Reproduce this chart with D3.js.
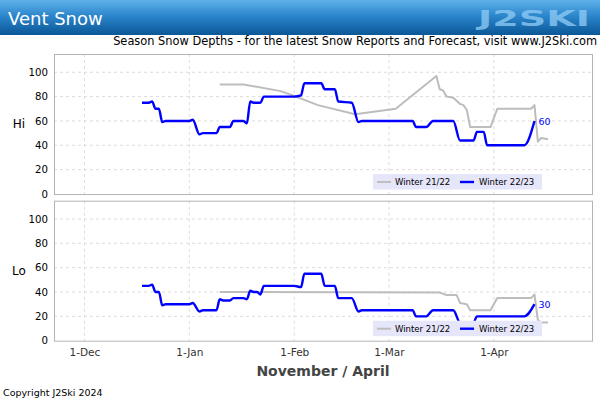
<!DOCTYPE html>
<html>
<head>
<meta charset="utf-8">
<script src="https://cdn.jsdelivr.net/npm/d3@7"></script>
<style>
  html, body { margin: 0; padding: 0; background: #fff; }
  svg { display: block; font-family: "DejaVu Sans", sans-serif; }
</style>
</head>
<body>
<svg id="chart" width="600" height="400"></svg>
<script>
// ---------------- DATA ----------------
const titleText = "Vent Snow";
const subtitleText = "Season Snow Depths - for the latest Snow Reports and Forecast, visit www.J2Ski.com";
const xAxisTitle = "November / April";
const copyrightText = "Copyright J2Ski 2024";
const seriesNames = ["Winter 21/22", "Winter 22/23"];
const panelLabels = ["Hi", "Lo"];
const yTicks = [0, 20, 40, 60, 80, 100];
const xTickDates = ["2022-12-01", "2023-01-01", "2023-02-01", "2023-03-01", "2023-04-01"];
const xDomain = ["2022-11-22", "2023-04-30"];

// Winter 22/23 (current season)
const cur_dates = ["2022-12-18","2022-12-20","2022-12-21","2022-12-22","2022-12-23","2022-12-24","2022-12-25",
  "2023-01-01","2023-01-02","2023-01-04","2023-01-05","2023-01-09","2023-01-10","2023-01-13","2023-01-14",
  "2023-01-17","2023-01-18","2023-01-19","2023-01-20","2023-01-22","2023-01-23","2023-02-01","2023-02-03",
  "2023-02-04","2023-02-09","2023-02-10","2023-02-13","2023-02-14","2023-02-18","2023-02-20","2023-02-21",
  "2023-03-08","2023-03-09","2023-03-12","2023-03-14","2023-03-20","2023-03-22","2023-03-26","2023-03-27",
  "2023-03-29","2023-03-30","2023-04-10","2023-04-13"];
const cur_hi = [75,75,76,70,70,59,60, 60,61,49,50,50,55,55,60, 60,58,76,75,75,80,80,81,
  91,91,86,86,76,75,59,60, 60,55,55,60,60,44,44,51, 51,40,40,60];
const cur_lo_dates = ["2022-12-18","2022-12-20","2022-12-21","2022-12-22","2022-12-23","2022-12-24","2022-12-25",
  "2023-01-01","2023-01-02","2023-01-04","2023-01-05","2023-01-09","2023-01-10","2023-01-11","2023-01-13",
  "2023-01-14","2023-01-17","2023-01-18","2023-01-19","2023-01-20","2023-01-21","2023-01-22","2023-01-23",
  "2023-02-01","2023-02-03","2023-02-04","2023-02-09","2023-02-10","2023-02-13","2023-02-14","2023-02-18",
  "2023-02-20","2023-02-21","2023-03-08","2023-03-09","2023-03-12","2023-03-14","2023-03-20","2023-03-22",
  "2023-03-26","2023-03-27","2023-04-10","2023-04-13"];
const cur_lo = [45,45,46,40,40,29,30, 30,31,24,25,25,34,33,33, 35,35,34,41,40,40,38,45,
  45,44,55,55,45,45,35,35, 24,25,25,20,20,25,25,15, 15,20,20,30];

// Winter 21/22 (previous season, shown on the same calendar)
const prev_hi_dates = ["2023-01-10","2023-01-17","2023-01-28","2023-02-02","2023-02-08","2023-02-19","2023-03-03",
  "2023-03-15","2023-03-16","2023-03-17","2023-03-18","2023-03-20","2023-03-22","2023-03-23","2023-03-24",
  "2023-03-25","2023-03-31","2023-04-02","2023-04-12","2023-04-13","2023-04-14","2023-04-15","2023-04-17"];
const prev_hi = [90,90,84.5,79.5,73,65.5,70, 97,86,85,80,79,74,73,69, 55,55,70,70,73,43,46,45];
const prev_lo_dates = ["2023-01-10","2023-03-16","2023-03-18","2023-03-21","2023-03-22","2023-03-24","2023-03-25",
  "2023-03-31","2023-04-02","2023-04-12","2023-04-13","2023-04-14","2023-04-15","2023-04-17"];
const prev_lo = [40,39.5,37.5,37.5,31,30,25, 25,35,35,38,17,15,15];

// ---------------- DRAW ----------------
const svg = d3.select("#chart");
const W = 600;
const parse = d3.utcParse("%Y-%m-%d");
const zip = (ds, vs) => ds.map((d, i) => ({ date: parse(d), value: vs[i] }));

const defs = svg.append("defs");
const grad = defs.append("linearGradient").attr("id", "hdr").attr("x1", 0).attr("y1", 0).attr("x2", 0).attr("y2", 1);
grad.append("stop").attr("offset", "0%").attr("stop-color", "#5fb1ea");
grad.append("stop").attr("offset", "45%").attr("stop-color", "#2c86cc");
grad.append("stop").attr("offset", "100%").attr("stop-color", "#0a5796");

// header
svg.append("rect").attr("x", 0).attr("y", 0).attr("width", W).attr("height", 35).attr("fill", "url(#hdr)");
svg.append("text").attr("x", 8).attr("y", 25).attr("fill", "#fff").attr("font-size", 18).text(titleText);
svg.append("text").attr("x", 478).attr("y", 26).attr("fill", "#8ccaf4").attr("fill-opacity", 0.8)
  .attr("font-size", 22).attr("font-weight", "bold").attr("textLength", 112).attr("lengthAdjust", "spacingAndGlyphs")
  .text("J2SKI");
svg.append("text").attr("x", 597).attr("y", 45).attr("text-anchor", "end").attr("font-size", 11.4).attr("fill", "#000")
  .text(subtitleText);

const x = d3.scaleUtc().domain(xDomain.map(parse)).range([54, 592]);

const panels = [
  { top: 54, label: panelLabels[0], prev: zip(prev_hi_dates, prev_hi), cur: zip(cur_dates, cur_hi), labelY: 127.5 },
  { top: 200.7, label: panelLabels[1], prev: zip(prev_lo_dates, prev_lo), cur: zip(cur_lo_dates, cur_lo), labelY: 275 }
];
const H = 140;

panels.forEach(p => {
  const y = d3.scaleLinear().domain([0, 115]).range([p.top + H, p.top]);
  const g = svg.append("g");
  // grid
  g.selectAll(".hg").data(yTicks.filter(t => t > 0)).join("line")
    .attr("x1", x.range()[0]).attr("x2", x.range()[1])
    .attr("y1", d => y(d)).attr("y2", d => y(d))
    .attr("stroke", "#dcdcdc").attr("stroke-dasharray", "3,3").attr("stroke-width", 1);
  g.selectAll(".vg").data(xTickDates.map(parse)).join("line")
    .attr("x1", d => x(d)).attr("x2", d => x(d))
    .attr("y1", p.top).attr("y2", p.top + H)
    .attr("stroke", "#dcdcdc").attr("stroke-dasharray", "3,3").attr("stroke-width", 1);
  // y axis labels
  const ya = d3.axisLeft(y).tickValues(yTicks).tickSize(0).tickPadding(6);
  const yg = g.append("g").attr("transform", `translate(54,0)`).call(ya);
  yg.select(".domain").remove();
  yg.selectAll("text").attr("font-size", 10.2).attr("font-family", "DejaVu Sans").attr("fill", "#000");
  // frame
  g.append("rect").attr("x", 54.5).attr("y", p.top + 0.5).attr("width", 592 - 54).attr("height", H)
    .attr("fill", "none").attr("stroke", "#b4b4b4").attr("stroke-width", 1);
  // panel label
  g.append("text").attr("x", 19).attr("y", p.labelY).attr("text-anchor", "middle").attr("font-size", 12).text(p.label);

  const lineCur = d3.line().x(d => x(d.date)).y(d => y(d.value)).curve(d3.curveMonotoneX);
  const linePrev = d3.line().x(d => x(d.date)).y(d => y(d.value)).curve(d3.curveLinear);
  g.append("path").datum(p.prev).attr("d", linePrev).attr("fill", "none").attr("stroke", "#bdbdbd").attr("stroke-width", 2)
    .attr("stroke-linejoin", "round");
  g.append("path").datum(p.cur).attr("d", lineCur).attr("fill", "none").attr("stroke", "#0000ff").attr("stroke-width", 2.4)
    .attr("stroke-linejoin", "round");
  const last = p.cur[p.cur.length - 1];
  g.append("text").attr("x", x(last.date) + 4).attr("y", y(last.value) + 4).attr("font-size", 9.5).attr("fill", "#0000ff")
    .text(last.value);

  // legend
  const ly = p.top + H - 20;
  const lg = g.append("g");
  lg.append("rect").attr("x", 373).attr("y", ly).attr("width", 169).attr("height", 15.5).attr("fill", "#e6e6fa");
  lg.append("line").attr("x1", 377).attr("x2", 391).attr("y1", ly + 8).attr("y2", ly + 8).attr("stroke", "#bdbdbd").attr("stroke-width", 2);
  lg.append("text").attr("x", 395).attr("y", ly + 11).attr("font-size", 8.5).text(seriesNames[0]);
  lg.append("line").attr("x1", 460).attr("x2", 474).attr("y1", ly + 8).attr("y2", ly + 8).attr("stroke", "#0000ff").attr("stroke-width", 2.4);
  lg.append("text").attr("x", 479).attr("y", ly + 11).attr("font-size", 8.5).text(seriesNames[1]);
});

// x axis
const xa = d3.axisBottom(x).tickValues(xTickDates.map(parse)).tickFormat(d3.utcFormat("%-d-%b")).tickSize(0).tickPadding(8);
const xg = svg.append("g").attr("transform", `translate(0,${200.7 + H})`).call(xa);
xg.select(".domain").remove();
xg.selectAll("text").attr("font-size", 10.5).attr("font-family", "DejaVu Sans").attr("fill", "#333");

svg.append("text").attr("x", 323).attr("y", 376).attr("text-anchor", "middle").attr("font-size", 14)
  .attr("font-weight", "bold").attr("fill", "#444").text(xAxisTitle);
svg.append("text").attr("x", 3).attr("y", 396).attr("font-size", 9.5).attr("fill", "#000").text(copyrightText);
</script>
</body>
</html>
